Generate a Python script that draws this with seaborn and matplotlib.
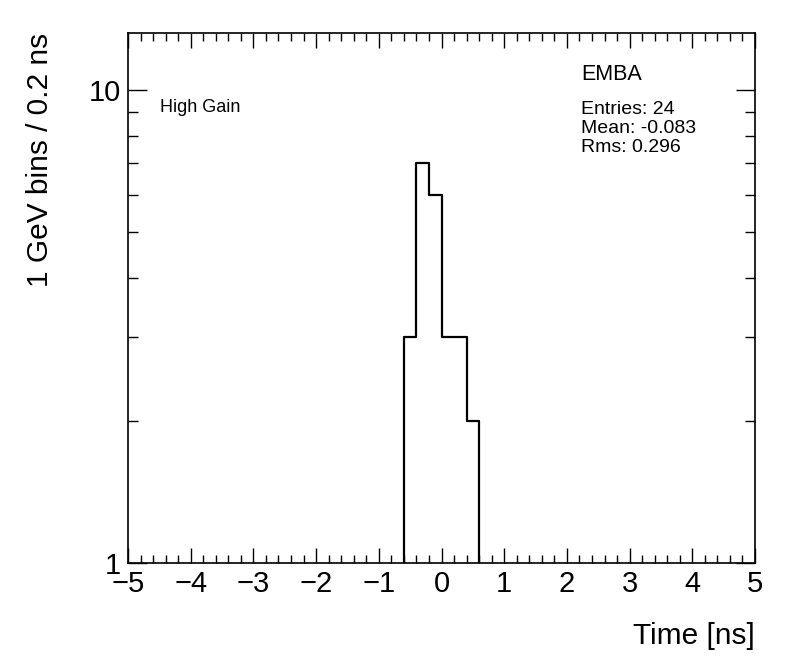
import numpy as np
import pandas as pd
import matplotlib
matplotlib.use('Agg')
import matplotlib.pyplot as plt
import seaborn as sns
from matplotlib.ticker import FixedLocator, LogLocator, NullFormatter, MultipleLocator

# histogram content (only non-empty bins, 0.2 ns wide)
bin_centers = [-0.5, -0.3, -0.1, 0.1, 0.3, 0.5]
counts = [3, 7, 6, 3, 3, 2]
x_range = (-5, 5)
n_bins = 50

stats_title = 'EMBA'
stats_lines = ['Entries: 24', 'Mean: -0.083', 'Rms: 0.296']

sns.set_style('ticks')
plt.rcParams['font.family'] = ['Liberation Sans', 'DejaVu Sans']
plt.rcParams['axes.unicode_minus'] = True
for k in ['text.color', 'axes.labelcolor', 'xtick.color', 'ytick.color',
          'xtick.labelcolor', 'ytick.labelcolor']:
    plt.rcParams[k] = 'black'

W, H = 796, 672
fig = plt.figure(figsize=(W / 100, H / 100), dpi=100)
ax = fig.add_axes([128 / W, 1 - 563 / H, 627 / W, 530 / H])

df = pd.DataFrame({'time': bin_centers, 'n': counts})
edges = [float(e) for e in np.linspace(x_range[0], x_range[1], n_bins + 1)]
sns.histplot(data=df, x='time', weights='n', bins=edges, element='step',
             fill=False, color='black', linewidth=1.6, ax=ax)

ax.set_yscale('log')
ax.set_xlim(*x_range)
ax.set_ylim(1, 13.2)
ax.set_xlabel('')
ax.set_ylabel('')

for s in ax.spines.values():
    s.set_linewidth(1.2)
    s.set_color('black')
    s.set_visible(True)

ax.xaxis.set_major_locator(MultipleLocator(1))
ax.xaxis.set_minor_locator(MultipleLocator(0.2))
ax.yaxis.set_major_locator(FixedLocator([1, 10]))
ax.set_yticklabels(['1', '10'])
ax.yaxis.set_minor_locator(LogLocator(base=10, subs=np.arange(2, 10)))
ax.yaxis.set_minor_formatter(NullFormatter())

ax.tick_params(axis='both', which='both', direction='in', top=True, right=True,
               color='black', width=1.0)
ax.tick_params(axis='x', which='major', length=11, labelsize=21, pad=5)
ax.tick_params(axis='x', which='minor', length=5.5)
ax.tick_params(axis='y', which='major', length=14, labelsize=21, pad=5)
ax.tick_params(axis='y', which='minor', length=7)

fig.text(755 / W, 1 - 636 / H, 'Time [ns]', ha='right', va='center', fontsize=21.5)
fig.text(40 / W, 1 - 33 / H, '1 GeV bins / 0.2 ns', rotation=90,
         ha='center', va='top', fontsize=21.5)

ax.text((160 - 128) / 627, (563 - 107) / 530, 'High Gain', transform=ax.transAxes,
        ha='left', va='center', fontsize=13)
ax.text((581 - 128) / 627, (563 - 74) / 530, stats_title, transform=ax.transAxes,
        ha='left', va='center', fontsize=15.5)
for i, line in enumerate(stats_lines):
    ax.text((581 - 128) / 627, (563 - 110 - 18.5 * i) / 530, line,
            transform=ax.transAxes, ha='left', va='center', fontsize=14)

fig.savefig('out.png', dpi=100)
